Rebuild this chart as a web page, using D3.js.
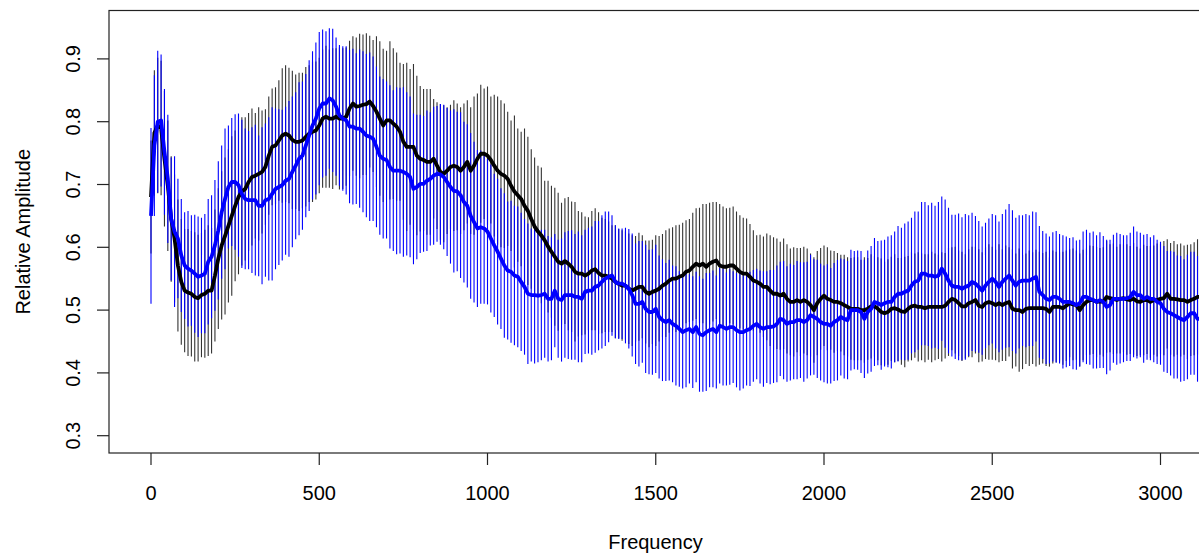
<!DOCTYPE html>
<html>
<head>
<meta charset="utf-8">
<script src="https://cdn.jsdelivr.net/npm/d3@7"></script>
<style>
  body { margin: 0; background: #fff; }
  text { font-family: "Liberation Sans", Arial, sans-serif; }
</style>
</head>
<body>
<div id="chart"></div>
<script>
var width = 1199;
var height = 556;

// frequency step between samples (Hz)
var freqStep = 10;

var xTicks = [0, 500, 1000, 1500, 2000, 2500, 3000];
var yTicks = [0.3, 0.4, 0.5, 0.6, 0.7, 0.8, 0.9];

// black series: mean
var blackMean = [
  0.680,0.782,0.794,0.790,0.741,0.698,0.645,0.614,0.571,0.545,
  0.531,0.528,0.526,0.521,0.519,0.524,0.526,0.531,0.531,0.555,
  0.582,0.603,0.618,0.634,0.650,0.666,0.680,0.689,0.693,0.704,
  0.712,0.714,0.717,0.720,0.728,0.746,0.760,0.762,0.770,0.778,
  0.781,0.778,0.771,0.768,0.768,0.770,0.776,0.781,0.784,0.786,
  0.794,0.805,0.808,0.805,0.805,0.808,0.805,0.805,0.808,0.821,
  0.829,0.824,0.825,0.827,0.828,0.832,0.825,0.816,0.805,0.794,
  0.802,0.802,0.797,0.792,0.784,0.768,0.760,0.760,0.760,0.746,
  0.741,0.739,0.736,0.736,0.741,0.730,0.720,0.717,0.722,0.728,
  0.730,0.728,0.722,0.728,0.736,0.722,0.730,0.741,0.749,0.749,
  0.746,0.739,0.730,0.722,0.717,0.714,0.709,0.698,0.689,0.683,
  0.677,0.666,0.658,0.645,0.633,0.625,0.619,0.611,0.601,0.593,
  0.585,0.577,0.574,0.578,0.574,0.569,0.561,0.558,0.558,0.555,
  0.558,0.563,0.565,0.559,0.555,0.555,0.553,0.550,0.545,0.542,
  0.539,0.539,0.534,0.531,0.534,0.537,0.537,0.529,0.526,0.529,
  0.531,0.534,0.539,0.542,0.547,0.550,0.550,0.553,0.555,0.561,
  0.563,0.569,0.574,0.571,0.574,0.569,0.574,0.577,0.579,0.571,
  0.569,0.569,0.571,0.571,0.566,0.561,0.558,0.558,0.553,0.547,
  0.545,0.542,0.537,0.537,0.531,0.526,0.526,0.523,0.526,0.518,
  0.513,0.513,0.516,0.513,0.516,0.513,0.508,0.500,0.511,0.518,
  0.523,0.518,0.516,0.513,0.513,0.511,0.508,0.505,0.502,0.502,
  0.502,0.500,0.500,0.502,0.506,0.506,0.502,0.497,0.495,0.497,
  0.502,0.503,0.501,0.498,0.497,0.502,0.506,0.507,0.505,0.505,
  0.503,0.505,0.505,0.505,0.505,0.505,0.507,0.513,0.518,0.516,
  0.511,0.506,0.506,0.511,0.513,0.516,0.507,0.505,0.511,0.513,
  0.511,0.508,0.511,0.508,0.511,0.513,0.502,0.500,0.500,0.497,
  0.502,0.503,0.503,0.503,0.503,0.503,0.502,0.497,0.505,0.505,
  0.505,0.503,0.507,0.511,0.509,0.508,0.500,0.508,0.513,0.516,
  0.516,0.513,0.514,0.513,0.521,0.519,0.518,0.516,0.518,0.519,
  0.517,0.516,0.518,0.514,0.513,0.516,0.516,0.513,0.516,0.516,
  0.518,0.519,0.526,0.518,0.518,0.517,0.516,0.516,0.513,0.516,
  0.518,0.521,0.521
];

// black series: standard deviation (half bar length)
var blackSd = [
  0.090,0.100,0.108,0.107,0.108,0.104,0.100,0.102,0.105,0.100,
  0.098,0.101,0.100,0.103,0.101,0.099,0.102,0.104,0.100,0.105,
  0.112,0.118,0.125,0.122,0.127,0.120,0.123,0.118,0.114,0.110,
  0.109,0.100,0.106,0.098,0.092,0.094,0.093,0.093,0.096,0.107,
  0.109,0.108,0.110,0.107,0.110,0.108,0.111,0.109,0.112,0.110,
  0.108,0.110,0.113,0.110,0.112,0.109,0.113,0.112,0.110,0.108,
  0.107,0.110,0.115,0.112,0.113,0.105,0.105,0.120,0.123,0.122,
  0.111,0.126,0.120,0.118,0.110,0.124,0.134,0.124,0.132,0.127,
  0.116,0.113,0.116,0.116,0.095,0.101,0.108,0.109,0.101,0.099,
  0.104,0.101,0.101,0.101,0.098,0.101,0.110,0.104,0.110,0.104,
  0.110,0.101,0.113,0.118,0.117,0.115,0.107,0.104,0.121,0.106,
  0.107,0.123,0.118,0.111,0.110,0.105,0.108,0.095,0.105,0.105,
  0.110,0.110,0.097,0.100,0.106,0.104,0.111,0.100,0.098,0.094,
  0.090,0.095,0.097,0.097,0.092,0.090,0.088,0.085,0.090,0.087,
  0.088,0.086,0.088,0.088,0.084,0.086,0.082,0.082,0.085,0.083,
  0.088,0.084,0.082,0.085,0.083,0.082,0.085,0.083,0.084,0.082,
  0.082,0.086,0.088,0.092,0.095,0.100,0.097,0.095,0.093,0.098,
  0.096,0.093,0.092,0.094,0.091,0.090,0.089,0.088,0.084,0.080,
  0.074,0.078,0.080,0.085,0.088,0.090,0.088,0.086,0.088,0.087,
  0.085,0.087,0.083,0.086,0.085,0.085,0.082,0.084,0.083,0.081,
  0.080,0.082,0.079,0.081,0.078,0.077,0.080,0.079,0.081,0.082,
  0.082,0.080,0.084,0.081,0.083,0.080,0.082,0.085,0.082,0.084,
  0.083,0.086,0.082,0.085,0.088,0.084,0.086,0.083,0.087,0.085,
  0.086,0.084,0.088,0.085,0.083,0.087,0.084,0.086,0.082,0.085,
  0.084,0.087,0.083,0.086,0.088,0.085,0.090,0.087,0.089,0.092,
  0.090,0.088,0.094,0.089,0.092,0.087,0.095,0.090,0.098,0.091,
  0.088,0.092,0.089,0.093,0.090,0.088,0.091,0.087,0.090,0.088,
  0.087,0.090,0.088,0.086,0.089,0.087,0.090,0.088,0.085,0.087,
  0.086,0.088,0.085,0.087,0.089,0.086,0.088,0.085,0.087,0.086,
  0.088,0.086,0.089,0.087,0.085,0.088,0.086,0.089,0.087,0.090,
  0.088,0.091,0.087,0.089,0.092,0.088,0.090,0.087,0.091,0.089,
  0.090,0.092,0.089
];

// blue series: mean
var blueMean = [
  0.650,0.762,0.800,0.802,0.752,0.709,0.645,0.625,0.614,0.587,
  0.571,0.566,0.563,0.558,0.553,0.555,0.558,0.577,0.585,0.603,
  0.627,0.656,0.677,0.696,0.704,0.704,0.699,0.685,0.677,0.675,
  0.675,0.675,0.666,0.666,0.675,0.677,0.685,0.693,0.696,0.699,
  0.706,0.709,0.720,0.730,0.741,0.746,0.762,0.778,0.794,0.805,
  0.821,0.829,0.829,0.837,0.834,0.824,0.810,0.805,0.802,0.792,
  0.792,0.789,0.789,0.784,0.778,0.776,0.773,0.760,0.746,0.741,
  0.739,0.728,0.722,0.722,0.722,0.720,0.717,0.712,0.693,0.696,
  0.701,0.701,0.706,0.709,0.714,0.717,0.716,0.712,0.704,0.696,
  0.690,0.689,0.683,0.672,0.666,0.650,0.640,0.630,0.632,0.630,
  0.625,0.614,0.603,0.593,0.582,0.571,0.563,0.561,0.555,0.553,
  0.545,0.537,0.526,0.524,0.524,0.523,0.524,0.526,0.518,0.518,
  0.531,0.518,0.516,0.524,0.524,0.524,0.521,0.521,0.518,0.529,
  0.531,0.531,0.537,0.539,0.545,0.550,0.553,0.555,0.545,0.542,
  0.542,0.539,0.534,0.524,0.510,0.510,0.513,0.502,0.497,0.497,
  0.502,0.489,0.484,0.481,0.484,0.478,0.475,0.470,0.465,0.468,
  0.470,0.465,0.473,0.462,0.460,0.465,0.468,0.470,0.465,0.475,
  0.473,0.470,0.473,0.473,0.468,0.465,0.465,0.468,0.470,0.475,
  0.478,0.473,0.470,0.473,0.473,0.474,0.478,0.486,0.484,0.478,
  0.481,0.481,0.484,0.484,0.481,0.484,0.492,0.489,0.486,0.481,
  0.478,0.478,0.475,0.481,0.484,0.489,0.486,0.484,0.500,0.500,
  0.500,0.497,0.486,0.497,0.502,0.513,0.511,0.508,0.511,0.513,
  0.513,0.521,0.526,0.526,0.529,0.531,0.539,0.545,0.547,0.558,
  0.558,0.555,0.555,0.553,0.555,0.566,0.558,0.547,0.539,0.537,
  0.537,0.534,0.537,0.539,0.545,0.542,0.537,0.531,0.539,0.545,
  0.550,0.545,0.537,0.545,0.550,0.555,0.547,0.539,0.545,0.547,
  0.547,0.547,0.550,0.553,0.529,0.524,0.518,0.516,0.521,0.521,
  0.518,0.513,0.513,0.513,0.511,0.508,0.511,0.521,0.521,0.518,
  0.516,0.513,0.516,0.513,0.505,0.508,0.518,0.518,0.518,0.518,
  0.519,0.521,0.529,0.524,0.524,0.518,0.521,0.518,0.518,0.513,
  0.511,0.502,0.497,0.495,0.492,0.489,0.486,0.484,0.489,0.495,
  0.495,0.486,0.486
];

// blue series: standard deviation (half bar length)
var blueSd = [
  0.140,0.112,0.113,0.105,0.100,0.102,0.098,0.120,0.095,0.090,
  0.085,0.092,0.088,0.094,0.096,0.092,0.095,0.100,0.098,0.104,
  0.110,0.106,0.112,0.098,0.102,0.108,0.114,0.118,0.112,0.110,
  0.116,0.120,0.112,0.125,0.122,0.130,0.138,0.128,0.124,0.120,
  0.118,0.124,0.120,0.117,0.122,0.118,0.114,0.120,0.118,0.121,
  0.122,0.118,0.115,0.112,0.114,0.110,0.112,0.115,0.118,0.122,
  0.124,0.120,0.126,0.128,0.130,0.134,0.131,0.128,0.126,0.127,
  0.125,0.130,0.128,0.133,0.132,0.135,0.130,0.128,0.120,0.115,
  0.110,0.108,0.112,0.106,0.110,0.108,0.112,0.115,0.118,0.122,
  0.130,0.127,0.132,0.128,0.130,0.132,0.128,0.125,0.122,0.120,
  0.116,0.118,0.114,0.116,0.112,0.115,0.110,0.113,0.111,0.112,
  0.110,0.108,0.112,0.106,0.109,0.106,0.104,0.102,0.100,0.098,
  0.090,0.094,0.098,0.100,0.102,0.103,0.100,0.104,0.101,0.099,
  0.100,0.102,0.105,0.103,0.106,0.107,0.104,0.096,0.090,0.088,
  0.088,0.092,0.095,0.098,0.096,0.100,0.097,0.102,0.099,0.100,
  0.102,0.098,0.097,0.094,0.096,0.093,0.095,0.092,0.090,0.091,
  0.087,0.089,0.088,0.092,0.090,0.094,0.091,0.093,0.090,0.092,
  0.093,0.090,0.092,0.089,0.091,0.093,0.090,0.088,0.091,0.089,
  0.088,0.090,0.092,0.089,0.091,0.090,0.093,0.091,0.094,0.092,
  0.093,0.091,0.094,0.092,0.095,0.093,0.096,0.092,0.094,0.093,
  0.093,0.095,0.092,0.094,0.096,0.093,0.095,0.094,0.096,0.094,
  0.095,0.097,0.094,0.098,0.100,0.102,0.099,0.103,0.101,0.104,
  0.106,0.104,0.108,0.105,0.109,0.110,0.108,0.112,0.110,0.114,
  0.114,0.112,0.116,0.113,0.117,0.115,0.118,0.116,0.113,0.115,
  0.117,0.114,0.116,0.112,0.110,0.108,0.105,0.102,0.100,0.101,
  0.103,0.106,0.104,0.108,0.110,0.114,0.112,0.108,0.106,0.104,
  0.106,0.104,0.107,0.103,0.105,0.102,0.104,0.101,0.103,0.105,
  0.103,0.106,0.104,0.102,0.105,0.103,0.101,0.104,0.107,0.105,
  0.109,0.106,0.108,0.105,0.107,0.104,0.102,0.105,0.103,0.101,
  0.100,0.102,0.104,0.101,0.099,0.102,0.100,0.098,0.101,0.099,
  0.098,0.100,0.097,0.099,0.101,0.098,0.100,0.097,0.099,0.098,
  0.098,0.100,0.097
];

function makeSeries(means, sds) {
  return means.map(function(m, i) {
    return { f: i * freqStep, mean: m, sd: sds[i] };
  });
}

var blackData = makeSeries(blackMean, blackSd);
var blueData = makeSeries(blueMean, blueSd);

// plot box (R style): right edge falls just outside the picture
var box = { left: 109, top: 10.5, right: 1202, bottom: 453 };

var x = d3.scaleLinear().domain([0, 3000]).range([151, 1160.5]);
var y = d3.scaleLinear().domain([0.3, 0.9]).range([435.7, 58.9]);

var svg = d3.select("#chart").append("svg")
  .attr("width", width)
  .attr("height", height);

svg.append("defs").append("clipPath")
  .attr("id", "plotclip")
  .append("rect")
  .attr("x", box.left)
  .attr("y", box.top)
  .attr("width", box.right - box.left)
  .attr("height", box.bottom - box.top);

var plot = svg.append("g").attr("clip-path", "url(#plotclip)");

function drawBars(data, colour, w) {
  plot.append("g")
    .selectAll("line")
    .data(data)
    .enter().append("line")
    .attr("x1", function(d) { return x(d.f); })
    .attr("x2", function(d) { return x(d.f); })
    .attr("y1", function(d) { return y(d.mean - d.sd); })
    .attr("y2", function(d) { return y(d.mean + d.sd); })
    .attr("stroke", colour)
    .attr("stroke-width", w);
}

var line = d3.line()
  .x(function(d) { return x(d.f); })
  .y(function(d) { return y(d.mean); });

function drawLine(data, colour) {
  plot.append("path")
    .datum(data)
    .attr("d", line)
    .attr("fill", "none")
    .attr("stroke", colour)
    .attr("stroke-width", 3.8)
    .attr("stroke-linejoin", "round");
}

drawBars(blackData, "#333", 1.1);
drawBars(blueData, "#0000ff", 1.1);
drawLine(blackData, "#000");
drawLine(blueData, "#0000ff");

// box
svg.append("rect")
  .attr("x", box.left)
  .attr("y", box.top)
  .attr("width", box.right - box.left)
  .attr("height", box.bottom - box.top)
  .attr("fill", "none")
  .attr("stroke", "#222")
  .attr("stroke-width", 1.2);

// x axis
var xAxis = svg.append("g");
xAxis.selectAll("line")
  .data(xTicks)
  .enter().append("line")
  .attr("x1", function(d) { return x(d); })
  .attr("x2", function(d) { return x(d); })
  .attr("y1", box.bottom)
  .attr("y2", box.bottom + 12)
  .attr("stroke", "#222")
  .attr("stroke-width", 1.2);
xAxis.selectAll("text")
  .data(xTicks)
  .enter().append("text")
  .attr("x", function(d) { return x(d); })
  .attr("y", 500)
  .attr("text-anchor", "middle")
  .attr("font-size", "20px")
  .attr("fill", "#000")
  .text(function(d) { return d; });

// y axis
var yAxis = svg.append("g");
yAxis.selectAll("line")
  .data(yTicks)
  .enter().append("line")
  .attr("x1", box.left - 12)
  .attr("x2", box.left)
  .attr("y1", function(d) { return y(d); })
  .attr("y2", function(d) { return y(d); })
  .attr("stroke", "#222")
  .attr("stroke-width", 1.2);
yAxis.selectAll("text")
  .data(yTicks)
  .enter().append("text")
  .attr("transform", function(d) { return "translate(80," + y(d) + ") rotate(-90)"; })
  .attr("text-anchor", "middle")
  .attr("font-size", "20px")
  .attr("fill", "#000")
  .text(function(d) { return d3.format(".1f")(d); });

// axis titles
svg.append("text")
  .attr("x", (box.left + box.right) / 2)
  .attr("y", 549)
  .attr("text-anchor", "middle")
  .attr("font-size", "20px")
  .text("Frequency");

svg.append("text")
  .attr("transform", "translate(30," + (box.top + box.bottom) / 2 + ") rotate(-90)")
  .attr("text-anchor", "middle")
  .attr("font-size", "20px")
  .text("Relative Amplitude");
</script>
</body>
</html>
